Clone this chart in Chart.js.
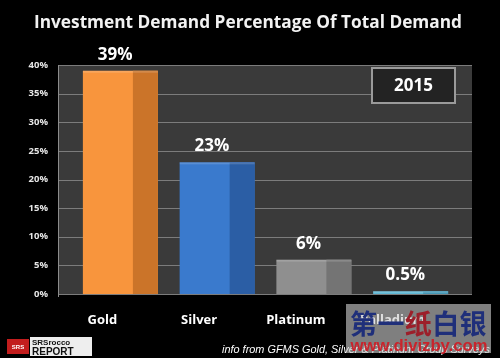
<!DOCTYPE html>
<html>
<head>
<meta charset="utf-8">
<style>
html,body{margin:0;padding:0;background:#000;}
#wrap{width:500px;height:358px;position:relative;}
</style>
<script src="https://cdn.jsdelivr.net/npm/chart.js@4"></script>
</head>
<body>
<div id="wrap"><canvas id="c" width="500" height="358"></canvas></div>
<script>
const categories = ["Gold", "Silver", "Platinum", "Palladium"];
const values = [39, 23, 6, 0.5];
const valueLabels = ["39%", "23%", "6%", "0.5%"];
const frontColors = ["#f8953d", "#3a7acd", "#8f8f8f", "#5bb5d3"];
const sideColors = ["#cb7429", "#2b5ea5", "#747474", "#4094b3"];
const yTicks = [0, 5, 10, 15, 20, 25, 30, 35, 40];
const titleText = "Investment Demand Percentage Of Total Demand";
const yearText = "2015";
const sourceText = "info from GFMS Gold, Silver & Platinum Group Surveys";
const watermarkCn = ["第", "一", "纸", "白", "银"];
const watermarkCnColors = ["#1f2f7a", "#1f2f7a", "#9c1f2a", "#1f2f7a", "#1f2f7a"];
const watermarkUrl = "www.divizby.com";

function fitFont(ctx, text, style, family, targetW, startSize) {
  let s = startSize;
  ctx.font = style + " " + s + "px " + family;
  let w = ctx.measureText(text).width;
  s = s * targetW / w;
  ctx.font = style + " " + s.toFixed(2) + "px " + family;
  return s;
}

const WALL_EXT_L = 14, WALL_EXT_R = 13;

const wallPlugin = {
  id: "wall",
  beforeDraw(chart) {
    const {ctx, chartArea: a, scales} = chart;
    const L = a.left - WALL_EXT_L, R = a.right + WALL_EXT_R;
    ctx.save();
    ctx.fillStyle = "#000";
    ctx.fillRect(0, 0, chart.width, chart.height);
    ctx.fillStyle = "#3a3a3a";
    ctx.fillRect(L, a.top, R - L, a.bottom - a.top);
    ctx.strokeStyle = "#7c7c7c";
    ctx.lineWidth = 1;
    scales.y.ticks.forEach(t => {
      const y = Math.round(scales.y.getPixelForValue(t.value)) + 0.5;
      ctx.beginPath();
      ctx.moveTo(L, y);
      ctx.lineTo(R, y);
      ctx.stroke();
    });
    ctx.strokeStyle = "#8c8c8c";
    ctx.beginPath();
    ctx.moveTo(L + 0.5, a.top);
    ctx.lineTo(L + 0.5, a.bottom + 3);
    ctx.stroke();
    ctx.restore();
  }
};

const decoPlugin = {
  id: "deco",
  afterDatasetsDraw(chart) {
    const {ctx} = chart;
    const meta = chart.getDatasetMeta(0);
    ctx.save();
    meta.data.forEach((bar, i) => {
      const w = bar.width;
      const l = bar.x - w / 2, r = bar.x + w / 2;
      const sideL = l + w * 0.667;
      const h = bar.base - bar.y;
      ctx.fillStyle = sideColors[i];
      ctx.fillRect(sideL, bar.y, r - sideL, h);
      ctx.fillStyle = "rgba(255,255,255,0.16)";
      ctx.fillRect(l, bar.y, w, Math.min(2, h));
    });
    // value labels
    ctx.fillStyle = "#fff";
    ctx.textAlign = "center";
    ctx.textBaseline = "alphabetic";
    ctx.font = "bold 17px 'Open Sans', sans-serif";
    meta.data.forEach((bar, i) => {
      ctx.fillText(valueLabels[i], bar.x - bar.width * 0.07, bar.y - 11);
    });
    // source text (under the watermark)
    ctx.fillStyle = "#ffffff";
    ctx.textAlign = "left";
    fitFont(ctx, sourceText, "italic", "'Liberation Sans', sans-serif", 268, 11);
    ctx.fillText(sourceText, 222, 353);
    // watermark box (over bars, under x labels)
    ctx.fillStyle = "rgba(205,205,205,0.62)";
    ctx.fillRect(346, 304, 145, 49);
    ctx.font = "bold 27px 'Noto Sans CJK SC', sans-serif";
    const cw = 27.4;
    watermarkCn.forEach((ch, k) => {
      ctx.fillStyle = watermarkCnColors[k];
      ctx.fillText(ch, 350 + k * cw, 334);
    });
    ctx.fillStyle = "#c9242c";
    ctx.textAlign = "center";
    fitFont(ctx, watermarkUrl, "bold", "'Liberation Sans', sans-serif", 137, 17);
    ctx.fillText(watermarkUrl, 419, 351);
    ctx.restore();
  },
  afterDraw(chart) {
    const {ctx, chartArea: a} = chart;
    ctx.save();
    // title
    ctx.fillStyle = "#f2f2f2";
    ctx.textAlign = "left";
    ctx.textBaseline = "alphabetic";
    fitFont(ctx, titleText, "bold", "'Open Sans', sans-serif", 428, 17);
    ctx.fillText(titleText, 34, 28);
    // 2015 box
    const bx = 372, by = a.top + 3, bw = 83, bh = 35;
    ctx.fillStyle = "#232323";
    ctx.fillRect(bx, by, bw, bh);
    ctx.strokeStyle = "#9a9a9a";
    ctx.lineWidth = 2;
    ctx.strokeRect(bx, by, bw, bh);
    ctx.fillStyle = "#fff";
    ctx.textAlign = "center";
    ctx.textBaseline = "middle";
    ctx.font = "bold 17px 'Open Sans', sans-serif";
    ctx.fillText(yearText, bx + bw / 2, by + bh / 2 + 1);
    // logo
    ctx.fillStyle = "#c21d1d";
    ctx.fillRect(7, 339, 22, 15);
    ctx.fillStyle = "#fff";
    ctx.font = "bold 6px 'Liberation Sans', sans-serif";
    ctx.fillText("SRS", 18, 347);
    ctx.fillStyle = "#eeeeee";
    ctx.fillRect(30, 337, 62, 19);
    ctx.fillStyle = "#111";
    ctx.textAlign = "left";
    ctx.textBaseline = "alphabetic";
    ctx.font = "bold 8px 'Liberation Sans', sans-serif";
    ctx.fillText("SRSrocco", 32, 345);
    ctx.font = "bold 10px 'Liberation Sans', sans-serif";
    ctx.fillText("REPORT", 32, 355);
    ctx.restore();
  }
};

const ctx = document.getElementById("c").getContext("2d");
new Chart(ctx, {
  type: "bar",
  data: {
    labels: categories,
    datasets: [{
      data: values,
      backgroundColor: frontColors,
      borderWidth: 0,
      barPercentage: 0.775,
      categoryPercentage: 1
    }]
  },
  options: {
    responsive: false,
    animation: false,
    devicePixelRatio: 1,
    layout: {padding: {left: 0, right: 41, top: 65, bottom: 0}},
    plugins: {legend: {display: false}, tooltip: {enabled: false}, title: {display: false}},
    scales: {
      x: {
        z: 1,
        grid: {display: false, drawTicks: false},
        border: {display: false},
        ticks: {
          color: "#fff",
          font: {family: "'Open Sans', sans-serif", weight: "bold", size: 13},
          padding: 18,
          labelOffset: -18
        },
        afterFit: (s) => { s.height = 64; }
      },
      y: {
        min: 0, max: 40,
        afterBuildTicks: (s) => { s.ticks = yTicks.map(v => ({value: v})); },
        grid: {display: false, drawTicks: false},
        border: {display: false},
        ticks: {
          color: "#e6e6e6",
          font: {family: "'Open Sans', sans-serif", weight: "bold", size: 9.5},
          padding: 24,
          callback: (v) => v + "%"
        },
        afterFit: (s) => { s.width = 72; }
      }
    }
  },
  plugins: [wallPlugin, decoPlugin]
});
</script>
</body>
</html>
